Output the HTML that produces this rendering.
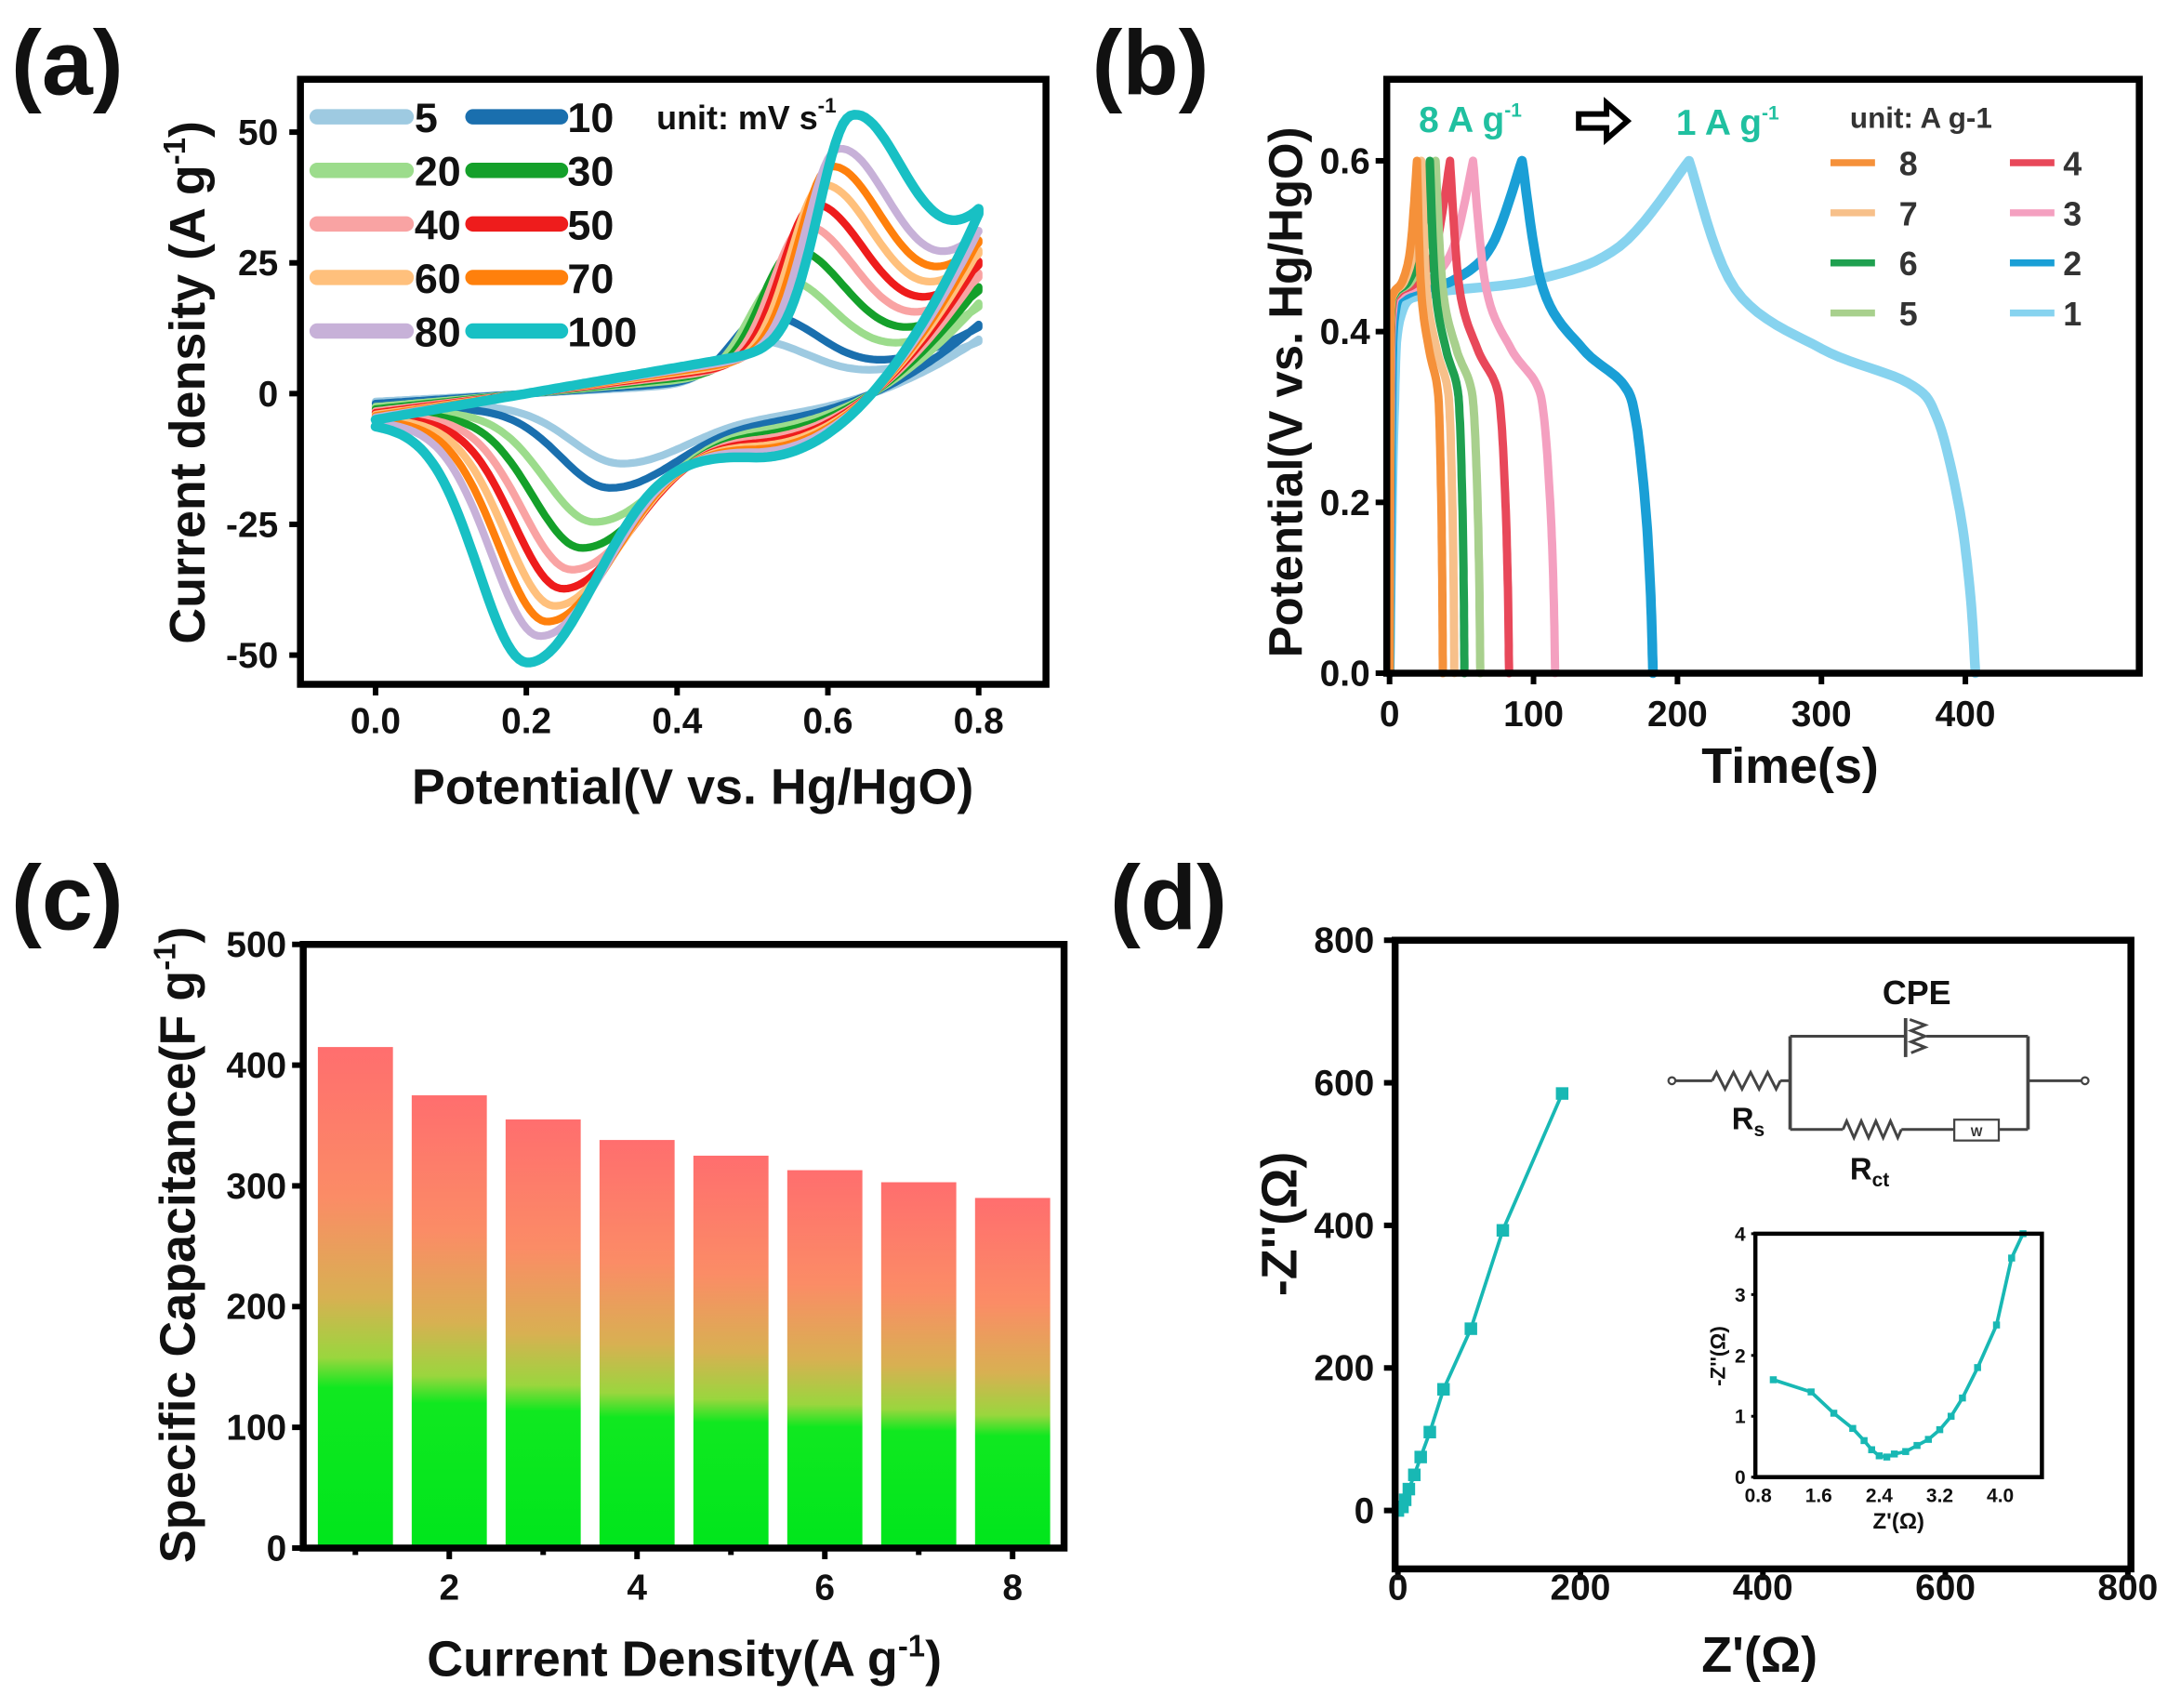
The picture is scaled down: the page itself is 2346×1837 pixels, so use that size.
<!DOCTYPE html>
<html><head><meta charset="utf-8"><style>
html,body{margin:0;padding:0;background:#fff;}
svg{display:block;}
text{font-family:"Liberation Sans Narrow","Liberation Sans",sans-serif;font-weight:bold;fill:#111;}
</style></head><body>
<svg id="s" width="2346" height="1837" viewBox="0 0 1568 1228" preserveAspectRatio="none" xmlns="http://www.w3.org/2000/svg">
<defs>
<linearGradient id="bg" x1="0" y1="0" x2="0" y2="1">
<stop offset="0" stop-color="#ff6e6e"/><stop offset="0.3" stop-color="#fb8c66"/><stop offset="0.5" stop-color="#d8b052"/><stop offset="0.62" stop-color="#9ad63e"/><stop offset="0.68" stop-color="#10e820"/><stop offset="1" stop-color="#00e61c"/>
</linearGradient>
</defs>
<g id="g"></g>
</svg>
<script>
var out=[];
function P(pts,col,w,extra){var d=pts.map(function(p,i){return (i?'L':'M')+p[0].toFixed(1)+' '+p[1].toFixed(1)}).join('');out.push('<path d="'+d+'" fill="none" stroke="'+col+'" stroke-width="'+w+'" stroke-linejoin="round" stroke-linecap="round" '+(extra||'')+'/>');}
function S(pts){var o=[];for(var i=0;i<pts.length-1;i++){var p0=pts[Math.max(0,i-1)],p1=pts[i],p2=pts[i+1],p3=pts[Math.min(pts.length-1,i+2)];for(var t=0;t<1;t+=0.1){var t2=t*t,t3=t2*t;o.push([0,1].map(function(k){return 0.5*((2*p1[k])+(-p0[k]+p2[k])*t+(2*p0[k]-5*p1[k]+4*p2[k]-p3[k])*t2+(-p0[k]+3*p1[k]-3*p2[k]+p3[k])*t3);}));}}o.push(pts[pts.length-1]);return o;}
function T(x,y,s,sz,anc,extra){out.push('<text x="'+x+'" y="'+y+'" font-size="'+sz+'" text-anchor="'+(anc||'start')+'" '+(extra||'')+'>'+s+'</text>');}
function L(x1,y1,x2,y2,w,c){out.push('<line x1="'+x1+'" y1="'+y1+'" x2="'+x2+'" y2="'+y2+'" stroke="'+(c||'#000')+'" stroke-width="'+(w||3)+'"/>');}
function R(x,y,w,h,sw){out.push('<rect x="'+x+'" y="'+y+'" width="'+w+'" height="'+h+'" fill="none" stroke="#000" stroke-width="'+(sw||5)+'"/>');}
var TF='font-family="Liberation Sans Narrow, Liberation Sans, sans-serif"';
// ===== Panel a =====
function ax(v){return 270+542*v} function ay(i){return 283-3.76*i}
var rates=[5,10,20,30,40,50,60,70,80,100];
var cols=['#9ecae1','#1a6fae','#9cdc8c','#14a02a','#f9a3a3','#ee1c1c','#ffc07c','#ff800c','#c7b1d8','#18c0c4'];
function ag(v,m,wl,wr){var w=v<m?wl:wr;return Math.exp(-Math.pow((v-m)/w,2));}
rates.forEach(function(r,k){
 var f=Math.sqrt(r/100), c=0.1+0.9*f;
 var xa=0.5+0.13*(f-0.22)/0.78, Ap=44*f-2;
 var xc=0.36-0.16*f, Ac=42*f+1;
 var pts=[];
 for(var v=0;v<=0.8001;v+=0.005){
  var u=c*(-5+25*v)+Ap*ag(v,xa,0.06,0.1)+(v>0.6?c*18*Math.pow((v-0.6)/0.2,2):0);
  pts.push([ax(v),ay(u)]);
 }
 for(var v=0.8;v>=-0.0001;v-=0.005){
  var lo=c*(-6-12*v)-Ac*ag(v,xc,0.09,0.13)+(v>0.5?c*50*Math.pow((v-0.5)/0.3,2):0);
  pts.push([ax(v),ay(lo)]);
 }
 P(pts,cols[k],k==9?7:5.5);
});
R(216,57,536,435);
[50,25,0,-25,-50].forEach(function(t){L(208,ay(t),216,ay(t),4);T(200,ay(t)+9,t,26,'end',TF);});
[0,0.2,0.4,0.6,0.8].forEach(function(t){L(ax(t),492,ax(t),500,4);T(ax(t),527,t.toFixed(1),26,'middle',TF);});
var lgx=[[228,292,298],[340,403,408]];
var labs=[5,10,20,30,40,50,60,70,80,100];
for(var i=0;i<10;i++){var row=Math.floor(i/2),cc=i%2,y=84+row*38.5;out.push('<line x1="'+lgx[cc][0]+'" y1="'+y+'" x2="'+lgx[cc][1]+'" y2="'+y+'" stroke="'+cols[i]+'" stroke-width="11" stroke-linecap="round"/>');T(lgx[cc][2],y+11,labs[i],30,'start',TF);}
T(472,93,'unit: mV s<tspan font-size="15" dy="-12">-1</tspan>',24,'start',TF);
T(8,68,'(a)',66,'start');
T(498,578,'Potential(V vs. Hg/HgO)',36,'middle');
T(0,0,'Current density (A g<tspan font-size="22" dy="-14">-1</tspan><tspan dy="14">)</tspan>',36,'middle','transform="translate(147,275) rotate(-90)"');
// ===== Panel b =====
function bx(t){return 999+1.035*t} function by(v){return 484-614*v}
var gc=[[1,208,407,'#87d3ef'],[2,92,183,'#1a9fd6'],[3,58,115,'#f4a0c0'],[4,42,83,'#e8485a'],[5,32,63,'#a8d08d'],[6,28,52,'#1fa050'],[7,22,45,'#f7c08a'],[8,19,37,'#f5913a']];
var ch=[[0,0],[3,0.3],[8,0.42],[30,0.445],[100,0.46],[160,0.5],[208,0.6]];
var dc=[[240,0.45],[300,0.38],[360,0.34],[380,0.3],[395,0.2],[403,0.1],[407,0]];
gc.forEach(function(g){
 var Tc=g[1],Te=g[2],a=[],b=[];
 ch.forEach(function(p){a.push([bx(p[0]*Tc/208),by(p[1])]);});
 b.push(a[a.length-1]);
 dc.forEach(function(p){b.push([bx(Tc+(p[0]-208)*(Te-Tc)/199),by(p[1])]);});
 P(S(a).concat(S(b)),g[3],g[0]<=2?7:6);
});
R(997,57,541,427);
[0,0.2,0.4,0.6].forEach(function(t){L(989,by(t),997,by(t),4);T(985,by(t)+9,t.toFixed(1),26,'end',TF);});
[0,100,200,300,400].forEach(function(t){L(bx(t),484,bx(t),492,4);T(bx(t),522,t,26,'middle',TF);});
T(1020,95,'8 A g<tspan font-size="14" dy="-11">-1</tspan>',26,'start',TF+' style="fill:#20c0a0"');
T(1205,97,'1 A g<tspan font-size="14" dy="-11">-1</tspan>',26,'start',TF+' style="fill:#20c0a0"');
out.push('<path d="M1135 82 L1155 82 L1155 74 L1170 87 L1155 100 L1155 92 L1135 92 Z" fill="#fff" stroke="#000" stroke-width="4"/>');
T(1330,92,'unit: A g-1',21,'start',TF+' style="fill:#333"');
var bl=[['8','#f5913a'],['4','#e8485a'],['7','#f7c08a'],['3','#f4a0c0'],['6','#1fa050'],['2','#1a9fd6'],['5','#a8d08d'],['1','#87d3ef']];
bl.forEach(function(b,i){var row=Math.floor(i/2),cc=i%2,y=117+row*36;var x0=cc?1445:1316;L(x0,y,x0+32,y,5,b[1]);T(cc?1490:1372,y+9,b[0],24,'middle',TF+' style="fill:#333"');});
T(785,68,'(b)',66,'start');
T(1287,563,'Time(s)',36,'middle');
T(0,0,'Potential(V vs. Hg/HgO)',34,'middle','transform="translate(936,282) rotate(-90)"');
// ===== Panel c =====
function cy(v){return 1113-0.868*v} function cx(i){return 255.5+67.5*(i-1)}
[415,375,355,338,325,313,303,290].forEach(function(v,i){out.push('<rect x="'+(cx(i+1)-27)+'" y="'+cy(v)+'" width="54" height="'+(1113-cy(v))+'" fill="url(#bg)"/>');});
R(218,679,547,434);
[0,100,200,300,400,500].forEach(function(t){L(210,cy(t),218,cy(t),4);T(206,cy(t)+9,t,26,'end',TF);});
[1,2,3,4,5,6,7,8].forEach(function(t){L(cx(t),1113,cx(t),t%2?1118:1121,4);if(t%2==0)T(cx(t),1150,t,26,'middle',TF);});
T(8,668,'(c)',66,'start');
T(492,1205,'Current Density(A g<tspan font-size="22" dy="-14">-1</tspan><tspan dy="14">)</tspan>',36,'middle');
T(0,0,'Specific Capacitance(F g<tspan font-size="22" dy="-14">-1</tspan><tspan dy="14">)</tspan>',36,'middle','transform="translate(140,895) rotate(-90)"');
// ===== Panel d =====
function dx(z){return 1005+0.656*z} function dy(z){return 1086-0.5125*z}
var nq=[[0,0],[5,5],[8,15],[12,30],[18,50],[25,75],[35,110],[50,170],[80,255],[115,393],[180,585]];
P(nq.map(function(p){return [dx(p[0]),dy(p[1])]}),'#18b8b4',2.5);
nq.forEach(function(p){out.push('<rect x="'+(dx(p[0])-4.5)+'" y="'+(dy(p[1])-4.5)+'" width="9" height="9" fill="#18b8b4"/>');});
R(1003,676,529,452);
[0,200,400,600,800].forEach(function(t){L(995,dy(t),1003,dy(t),4);T(988,dy(t)+9,t,26,'end',TF);L(dx(t),1128,dx(t),1136,4);T(dx(t),1150,t,26,'middle',TF);});
T(798,668,'(d)',66,'start');
T(1265,1202,"Z'(Ω)",36,'middle');
T(0,0,"-Z''(Ω)",36,'middle','transform="translate(932,880) rotate(-90)"');
// circuit
var cw='#444';
function zig(x1,x2,y){var n=4,w=(x2-x1)/(n*2),d='M'+x1+' '+y;for(var i=0;i<n*2;i++){d+=' L'+(x1+w*(i+0.5))+' '+(y+(i%2?6:-6));}d+=' L'+x2+' '+y;out.push('<path d="'+d+'" fill="none" stroke="'+cw+'" stroke-width="2"/>');}
out.push('<circle cx="1202" cy="777" r="2.5" fill="none" stroke="'+cw+'" stroke-width="1.5"/><circle cx="1499" cy="777" r="2.5" fill="none" stroke="'+cw+'" stroke-width="1.5"/>');
L(1205,777,1231,777,2,cw);zig(1231,1280,777);L(1280,777,1287,777,2,cw);
L(1287,745,1287,812,2.5,cw);L(1458,745,1458,812,2.5,cw);L(1458,777,1496,777,2,cw);
L(1287,745,1370,745,2,cw);L(1385,745,1458,745,2,cw);L(1370,732,1370,760,2.5,cw);
out.push('<path d="M1373 733 L1384 737 L1374 741 L1384 745 L1374 749 L1384 753 L1374 757" fill="none" stroke="'+cw+'" stroke-width="2"/>');
L(1287,812,1325,812,2,cw);zig(1325,1367,812);L(1367,812,1405,812,2,cw);
out.push('<rect x="1405" y="805" width="32" height="15" fill="#fff" stroke="'+cw+'" stroke-width="1.5"/>');
T(1421,817,'W',9,'middle','style="font-family:Liberation Sans;fill:#333"');
L(1437,812,1458,812,2,cw);
T(1378,722,'CPE',24,'middle','style="font-family:Liberation Sans;font-weight:bold"');
T(1245,812,'R<tspan font-size="14" dy="5">s</tspan>',22,'start','style="font-family:Liberation Sans;font-weight:bold"');
T(1330,848,'R<tspan font-size="14" dy="5">ct</tspan>',22,'start','style="font-family:Liberation Sans;font-weight:bold"');
// inset
function ix(z){return 1264+54.4*(z-0.8)} function iy(z){return 1062-43.75*z}
var ip=[[1.0,1.6],[1.5,1.4],[1.8,1.05],[2.05,0.8],[2.2,0.6],[2.3,0.45],[2.4,0.35],[2.5,0.33],[2.6,0.38],[2.75,0.42],[2.9,0.52],[3.05,0.62],[3.2,0.78],[3.35,1.0],[3.5,1.3],[3.7,1.8],[3.95,2.5],[4.15,3.6],[4.3,4.0]];
P(ip.map(function(p){return [ix(p[0]),iy(p[1])]}),'#18b8b4',2.5);
ip.forEach(function(p){out.push('<rect x="'+(ix(p[0])-2.5)+'" y="'+(iy(p[1])-2.5)+'" width="5" height="5" fill="#18b8b4"/>');});
R(1262,887,206,175,3);
[0,1,2,3,4].forEach(function(t){L(1259,iy(t),1262,iy(t),2);T(1255,iy(t)+5,t,14,'end','style="font-family:Liberation Sans;font-weight:bold"');});
[0.8,1.6,2.4,3.2,4.0].forEach(function(t){T(ix(t),1080,t.toFixed(1),14,'middle','style="font-family:Liberation Sans;font-weight:bold"');});
T(1365,1099,"Z'(Ω)",16,'middle','style="font-family:Liberation Sans;font-weight:bold"');
T(0,0,"-Z''(Ω)",15,'middle','transform="translate(1240,975) rotate(-90)" style="font-family:Liberation Sans;font-weight:bold"');
document.getElementById('g').innerHTML=out.join('');
</script>
</body></html>
